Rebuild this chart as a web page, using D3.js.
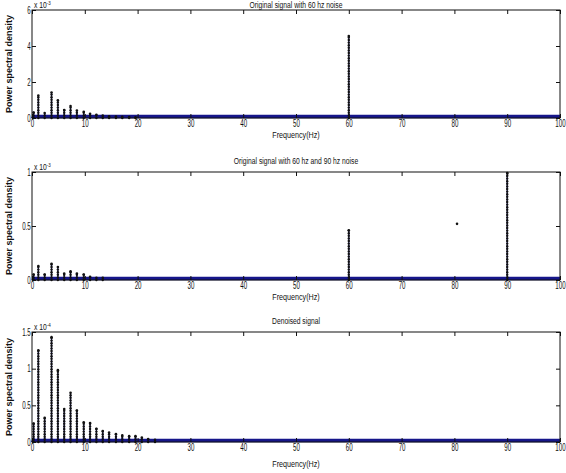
<!DOCTYPE html>
<meta charset="utf-8">
<title>Power spectral density</title>
<style>
body { margin: 0; background: #fff; }
text { font-family: "Liberation Sans", Arial, sans-serif; fill: #111; }
.tick text { font-size: 10px; }
.ylab { font-size: 9px; font-weight: bold; }
.xlab, .title, .expo { font-size: 9px; }
</style>
<body>
<script src="https://d3js.org/d3.v7.min.js"></script>
<script>
var width = 566, height = 473;

// x ticks shared by all panels
var xTicks = [0, 10, 20, 30, 40, 50, 60, 70, 80, 90, 100];

// panel 1: original signal with 60 hz noise (x 10^-3)
var p1Freq = [0.3, 1.2, 2.4, 3.7, 4.9, 6.1, 7.3, 8.5, 9.8, 11.0, 12.2, 13.4, 14.6, 15.9, 17.1, 18.4, 19.6, 60];
var p1Power = [0.3, 1.25, 0.28, 1.42, 0.98, 0.44, 0.66, 0.42, 0.35, 0.24, 0.18, 0.13, 0.1, 0.08, 0.07, 0.05, 0.04, 4.55];
var p1Ticks = [0, 2, 4, 6];

// panel 2: original signal with 60 hz and 90 hz noise (x 10^-3)
var p2Freq = [0.3, 1.2, 2.4, 3.7, 4.9, 6.1, 7.3, 8.5, 9.8, 11.0, 12.2, 13.4, 60, 90];
var p2Power = [0.05, 0.13, 0.05, 0.15, 0.12, 0.06, 0.08, 0.06, 0.05, 0.03, 0.02, 0.02, 0.46, 0.99];
var p2Ticks = [0, 0.5, 1];
var p2Stray = [[80.5, 0.52]];

// panel 3: denoised signal (x 10^-4)
var p3Freq = [0.3, 1.2, 2.4, 3.7, 4.9, 6.1, 7.3, 8.5, 9.8, 11.0, 12.2, 13.4, 14.6, 15.9, 17.1, 18.4, 19.6, 20.8, 22.0, 23.3];
var p3Power = [0.25, 1.25, 0.33, 1.43, 0.98, 0.45, 0.67, 0.43, 0.27, 0.26, 0.18, 0.15, 0.13, 0.11, 0.09, 0.08, 0.08, 0.06, 0.04, 0.03];
var p3Ticks = [0, 0.5, 1, 1.5];

var panels = [
  {top: 10, bottom: 118, freq: p1Freq, power: p1Power, ticks: p1Ticks, max: 6, expo: "-3",
   title: "Original signal with 60 hz noise", stray: [], fillH: 0.04},
  {top: 172, bottom: 280, freq: p2Freq, power: p2Power, ticks: p2Ticks, max: 1, expo: "-3",
   title: "Original signal with 60 hz and 90 hz noise", stray: p2Stray, fillH: 0.01},
  {top: 332, bottom: 442, freq: p3Freq, power: p3Power, ticks: p3Ticks, max: 1.5, expo: "-4",
   title: "Denoised signal", stray: [], fillH: 0.05}
];

var left = 32, right = 560;
var narrow = "scale(0.62,1)";

var svg = d3.select("body").append("svg")
    .attr("width", width)
    .attr("height", height);

var x = d3.scaleLinear().domain([0, 100]).range([left, right]);

function darkTicks(a) {
  a.select(".domain").remove();
  a.selectAll("line").attr("stroke", "#111");
}

panels.forEach(function(p, k) {
  var y = d3.scaleLinear().domain([0, p.max]).range([p.bottom, p.top]);
  var g = svg.append("g");

  // title above the axes box (narrowed like the source raster)
  g.append("text").attr("class", "title")
      .attr("transform", "translate(" + ((left + right) / 2) + "," + (k === 0 ? 8 : p.top - 8) + ") scale(0.75,1)")
      .attr("text-anchor", "middle")
      .text(p.title);

  // blue base under the peaks
  var base = d3.area()
      .x(function(d) { return x(d[0]); })
      .y0(y(0)).y1(function(d) { return y(d[1]); });
  p.freq.forEach(function(f, i) {
    var h = Math.min(p.fillH * p.max, p.power[i]);
    g.append("path")
        .attr("d", base([[f - 0.5, 0], [f, h], [f + 0.5, 0]]))
        .attr("fill", "#1c1c9a");
  });
  g.append("line")
      .attr("x1", x(0)).attr("x2", x(100))
      .attr("y1", y(0) - 1.5).attr("y2", y(0) - 1.5)
      .attr("stroke", "#16168a").attr("stroke-width", 3.5);

  // stems with dot markers
  p.freq.forEach(function(f, i) {
    var y0 = y(0), y1 = y(p.power[i]);
    g.append("line")
        .attr("x1", x(f)).attr("x2", x(f))
        .attr("y1", y0).attr("y2", y1)
        .attr("stroke", "#0c0c55").attr("stroke-width", 1.2);
    for (var yy = y0; yy >= y1; yy -= 2.6) {
      g.append("circle").attr("cx", x(f)).attr("cy", yy).attr("r", 1.2).attr("fill", "#111");
    }
    g.append("circle").attr("cx", x(f)).attr("cy", y1).attr("r", 1.3).attr("fill", "#111");
  });

  p.stray.forEach(function(s) {
    g.append("circle").attr("cx", x(s[0])).attr("cy", y(s[1])).attr("r", 1.3).attr("fill", "#111");
  });

  // axes with inward ticks
  g.append("g")
      .attr("transform", "translate(0," + p.bottom + ")")
      .call(d3.axisBottom(x).tickValues(xTicks).tickSize(-4).tickPadding(2))
      .call(darkTicks)
      .selectAll("text").attr("transform", narrow);
  g.append("g")
      .attr("transform", "translate(0," + p.top + ")")
      .call(d3.axisTop(x).tickValues(xTicks).tickSize(-4).tickFormat(""))
      .call(darkTicks);
  g.append("g")
      .attr("transform", "translate(" + left + ",0)")
      .call(d3.axisLeft(y).tickValues(p.ticks).tickSize(-4).tickPadding(2).tickFormat(d3.format("~g")))
      .call(darkTicks)
      .selectAll("text").attr("transform", narrow);
  g.append("g")
      .attr("transform", "translate(" + right + ",0)")
      .call(d3.axisRight(y).tickValues(p.ticks).tickSize(-4).tickFormat(""))
      .call(darkTicks);

  g.append("rect")
      .attr("x", left).attr("y", p.top)
      .attr("width", right - left).attr("height", p.bottom - p.top)
      .attr("fill", "none").attr("stroke", "#111").attr("stroke-width", 1);

  // exponent label
  var ex = g.append("text").attr("class", "expo")
      .attr("transform", "translate(" + (left + 2) + "," + (p.top - 2) + ") scale(0.75,1)");
  ex.append("tspan").text("x 10");
  ex.append("tspan").attr("dy", -3).attr("font-size", "6px").text(p.expo);

  g.append("text").attr("class", "xlab")
      .attr("transform", "translate(" + ((left + right) / 2) + "," + (p.bottom + (k === 2 ? 25 : 20)) + ") scale(0.8,1)")
      .attr("text-anchor", "middle")
      .text("Frequency(Hz)");

  g.append("text").attr("class", "ylab")
      .attr("transform", "translate(12," + ((p.top + p.bottom) / 2) + ") rotate(-90)")
      .attr("text-anchor", "middle")
      .text("Power spectral density");
});
</script>
</body>
